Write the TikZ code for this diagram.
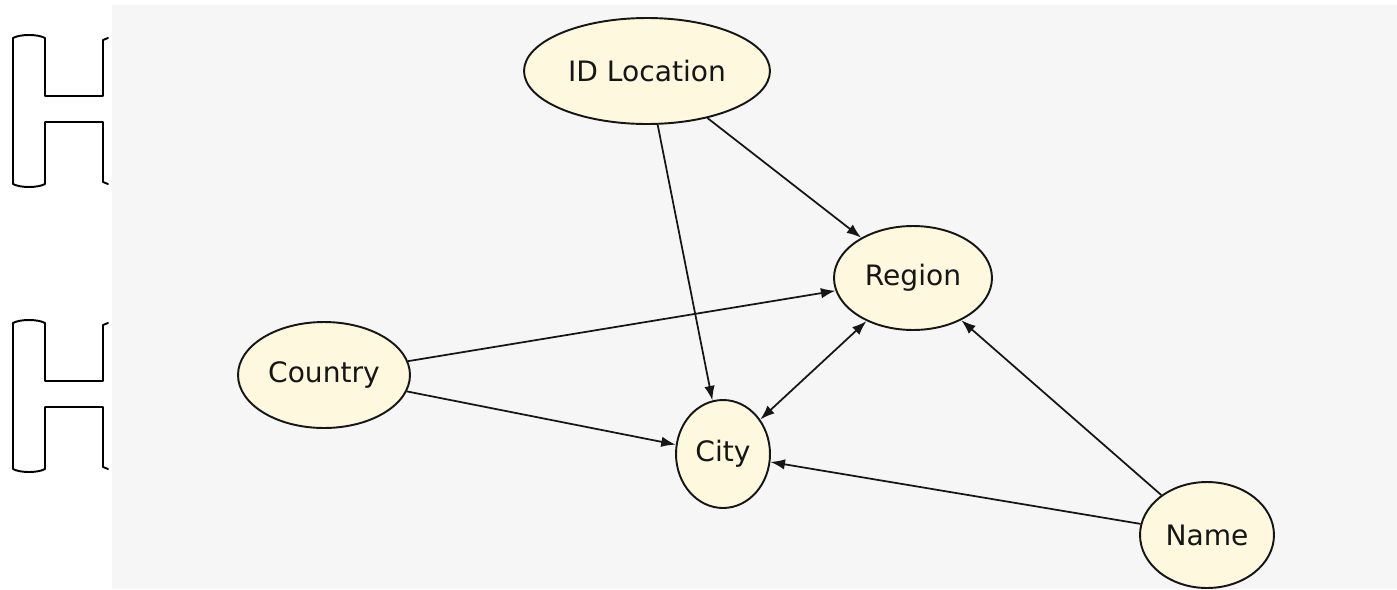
\documentclass[tikz,border=0pt]{standalone}
\usepackage{fontspec}
\setmainfont{DejaVu Sans}
\usepackage{tikz}
\usetikzlibrary{arrows.meta,shapes.geometric}
\definecolor{erbg}{RGB}{246,246,246}
\definecolor{erfill}{RGB}{253,248,222}
\definecolor{eredge}{RGB}{22,22,22}
\tikzset{
  attr/.style={
    ellipse, draw=eredge, fill=erfill, line width=1.1pt,
    inner sep=0pt, text=eredge, font=\fontsize{16}{19}\selectfont
  },
  arr/.style={-{Latex[length=2.9mm,width=2.1mm]}, draw=eredge, line width=1pt},
  darr/.style={arr, {Latex[length=2.9mm,width=2.1mm]}-{Latex[length=2.9mm,width=2.1mm]}},
  tab/.style={draw=black, line width=1.1pt, line join=round, line cap=round}
}
\begin{document}
\begin{tikzpicture}[x=0.02cm,y=-0.02cm]
  \useasboundingbox (0,0) rectangle (1397,589);
  \fill[erbg] (112,5) rectangle (1397,589);

  % left tabs
  \foreach \t/\m/\n/\b in {38/96/122/184, 323/381/407/469} {
    \draw[tab] (13,\t) .. controls (20,\t-4) and (38,\t-4) .. (45,\t)
      -- (45,\m) -- (103,\m) -- (103,\t+2) -- (108,\t);
    \draw[tab] (13,\t) -- (13,\b) .. controls (20,\b+4) and (38,\b+4) .. (45,\b)
      -- (45,\n) -- (103,\n) -- (103,\b-2) -- (108,\b);
  }

  \node[attr, minimum width=4.92cm, minimum height=2.12cm] (idloc) at (647,71) {ID Location};
  \node[attr, minimum width=3.16cm, minimum height=2.08cm] (region) at (913,278) {Region};
  \node[attr, minimum width=3.44cm, minimum height=2.12cm] (country) at (324,375) {Country};
  \node[attr, minimum width=1.88cm, minimum height=2.16cm] (city) at (723,454) {City};
  \node[attr, minimum width=2.68cm, minimum height=2.12cm] (name) at (1207,535) {Name};

  \draw[arr] (idloc) -- (region);
  \draw[arr] (idloc) -- (city);
  \draw[arr] (country) -- (region);
  \draw[arr] (country) -- (city);
  \draw[darr] (region) -- (city);
  \draw[arr] (name) -- (region);
  \draw[arr] (name) -- (city);
\end{tikzpicture}
\end{document}
